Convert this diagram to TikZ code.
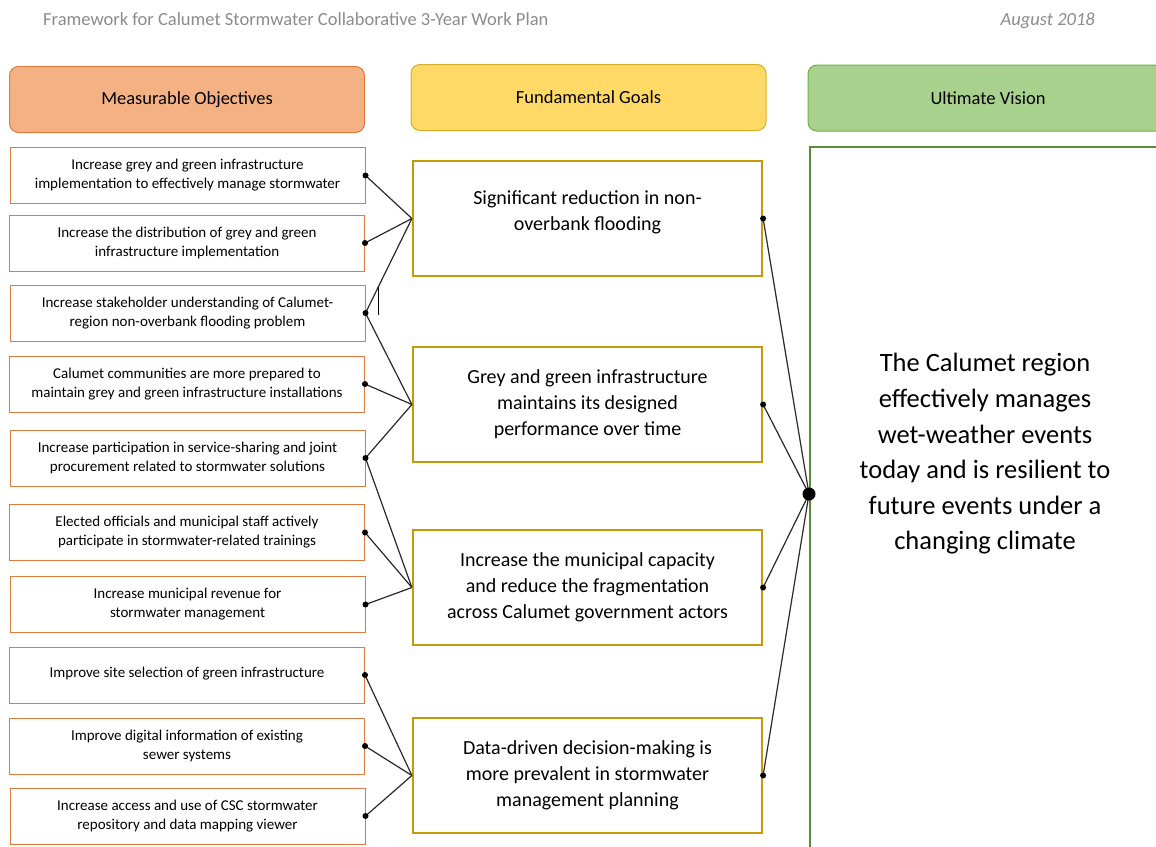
\documentclass[tikz,border=0pt]{standalone}
\usepackage{fontspec}
\setmainfont{Carlito}
\definecolor{hdrO}{HTML}{F4B183}
\definecolor{hdrObd}{HTML}{E07B3F}
\definecolor{hdrY}{HTML}{FFD966}
\definecolor{hdrYbd}{HTML}{D4AE2A}
\definecolor{hdrG}{HTML}{A9D18E}
\definecolor{hdrGbd}{HTML}{70AD47}
\definecolor{objbd}{HTML}{E07B3F}
\definecolor{goalbd}{HTML}{C59A0A}
\definecolor{visbd}{HTML}{5B8C3A}
\definecolor{titlegray}{HTML}{8C8C8C}
\definecolor{linegray}{HTML}{2A2A2A}
\tikzset{
  hdr/.style={draw, rounded corners=9pt, line width=1pt, minimum width=355pt, minimum height=66pt, font=\fontsize{18.5}{22}\selectfont, text=black},
  obj/.style={draw=objbd, line width=1pt, minimum width=355pt, minimum height=56pt, align=center, font=\fontsize{15}{19}\selectfont, inner sep=0pt},
  goal/.style={draw=goalbd, line width=2.2pt, minimum width=349pt, minimum height=115pt, align=center, font=\fontsize{20}{26}\selectfont, inner sep=0pt},
  conn/.style={draw=linegray, line width=1.2pt},
  dot/.style={circle, fill=black, inner sep=0pt, minimum size=6pt},
}
\begin{document}
\begin{tikzpicture}[x=1pt,y=-1pt]
\useasboundingbox (0,0) rectangle (1156,846);
\clip (0,0) rectangle (1156,846);
\fill[white] (0,0) rectangle (1156,846);
% title
\node[anchor=base west, text=titlegray, font=\fontsize{18.5}{22}\selectfont, inner sep=0pt] (title) at (43,25.5) {Framework for Calumet Stormwater Collaborative 3-Year Work Plan};
\node[anchor=base east, text=titlegray, font=\fontsize{18.5}{22}\selectfont\itshape, inner sep=0pt] (date) at (1095,25.5) {August 2018};
% headers
\node[hdr, fill=hdrO, draw=hdrObd] (h1) at (187,99.5) {Measurable Objectives};
\node[hdr, fill=hdrY, draw=hdrYbd] (h2) at (588.5,97.5) {Fundamental Goals};
\node[hdr, fill=hdrG, draw=hdrGbd, minimum width=360pt] (h3) at (988,98) {Ultimate Vision};
% vision box
\node[draw=visbd, line width=2pt, minimum width=380pt, minimum height=720pt, anchor=north west] (vis) at (809,146) {};
\node[align=center, font=\fontsize{26.5}{35.6}\selectfont] (vtext) at (985,454) {The Calumet region\\effectively manages\\wet-weather events\\today and is resilient to\\future events under a\\changing climate};
% objectives
\node[obj] (o1) at (187.5,175.5) {Increase grey and green infrastructure\\implementation to effectively manage stormwater};
\node[obj] (o2) at (187,243) {Increase the distribution of grey and green\\infrastructure implementation};
\node[obj] (o3) at (187.5,313) {Increase stakeholder understanding of Calumet-\\region non-overbank flooding problem};
\node[obj] (o4) at (187,384) {Calumet communities are more prepared to\\maintain grey and green infrastructure installations};
\node[obj] (o5) at (187.5,458) {Increase participation in service-sharing and joint\\procurement related to stormwater solutions};
\node[obj] (o6) at (187,532.5) {Elected officials and municipal staff actively\\participate in stormwater-related trainings};
\node[obj] (o7) at (187.5,604.5) {Increase municipal revenue for\\stormwater management};
\node[obj] (o8) at (187,675) {Improve site selection of green infrastructure\\[-19pt]\strut};
\node[obj] (o9) at (187,746) {Improve digital information of existing\\sewer systems};
\node[obj] (o10) at (187.5,816) {Increase access and use of CSC stormwater\\repository and data mapping viewer};
% goals
\node[goal] (g1) at (587.5,218.5) {};
\node[align=center, font=\fontsize{20}{26}\selectfont] (g1t) at (587.5,212) {Significant reduction in non-\\overbank flooding};
\node[goal] (g2) at (587.5,404.5) {Grey and green infrastructure\\maintains its designed\\performance over time};
\node[goal] (g3) at (587.5,587.5) {Increase the municipal capacity\\and reduce the fragmentation\\across Calumet government actors};
\node[goal] (g4) at (587.5,775.5) {Data-driven decision-making is\\more prevalent in stormwater\\management planning};
% hub
\coordinate (hub) at (809,494);
% left connectors
\foreach \o/\g in {o1/g1,o2/g1,o3/g1,o3/g2,o4/g2,o5/g2,o5/g3,o6/g3,o7/g3,o8/g4,o9/g4,o10/g4}{
  \draw[conn] (\o.east) -- (\g.west);
}
\foreach \o in {o1,o2,o3,o4,o5,o6,o7,o8,o9,o10}{
  \node[dot] at (\o.east) {};
}
% right connectors
\foreach \g in {g1,g2,g3,g4}{
  \draw[conn] (\g.east) -- (hub);
  \node[dot] at (\g.east) {};
}
\node[circle, fill=black, inner sep=0pt, minimum size=13pt] (hubdot) at (hub) {};
% stray cursor mark
\coordinate (ca) at (378,287);
\coordinate (cb) at (378,315);
\draw[black, line width=1pt] (ca) -- (cb);
\end{tikzpicture}
\end{document}
